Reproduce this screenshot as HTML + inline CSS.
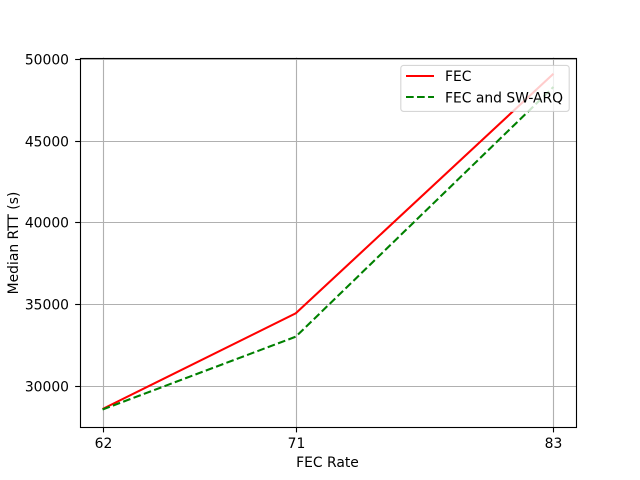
<!DOCTYPE html>
<html>
<head>
<meta charset="utf-8">
<style>
html,body{margin:0;padding:0;background:#fff;}
svg{display:block;}
text{font-family:"DejaVu Sans","Liberation Sans",sans-serif;font-size:13.89px;fill:#000;}
</style>
</head>
<body>
<svg id="chart" xmlns="http://www.w3.org/2000/svg" width="640" height="480" viewBox="0 0 640 480">
  <rect x="0" y="0" width="640" height="480" fill="#fff"/>
  <g id="grid"></g>
  <g id="series"></g>
  <g id="ticks"></g>
  <rect x="80.5" y="58.5" width="496" height="369" fill="none" stroke="#000" stroke-width="1.11"/>
  <text x="327.5" y="467" text-anchor="middle">FEC Rate</text>
  <text transform="translate(18 243) rotate(-90)" text-anchor="middle">Median RTT (s)</text>
  <g>
    <rect x="400.8" y="65.4" width="168.4" height="46" rx="2.8" ry="2.8" fill="#fff" fill-opacity="0.8" stroke="#ccc" stroke-opacity="0.8" stroke-width="1.11"/>
    <line x1="406" y1="76" x2="434" y2="76" stroke="#f00" stroke-width="2.08"/>
    <text x="445" y="81">FEC</text>
    <line x1="406" y1="97" x2="434" y2="97" stroke="#008000" stroke-width="2.08" stroke-dasharray="7.7 3.33"/>
    <text x="445" y="102.5">FEC and SW-ARQ</text>
  </g>
</svg>
<script>
const categories = [62, 71, 83];
const xTickLabels = ["62", "71", "83"];
const yTickValues = [30000, 35000, 40000, 45000, 50000];
const yTickLabels = ["30000", "35000", "40000", "45000", "50000"];
const fecValues = [28611, 34468, 49130];
const fecSwArqValues = [28580, 33036, 48317];
const yDomain = [27497, 50116];

const NS = "http://www.w3.org/2000/svg";
const plot = { left: 80, right: 576, top: 57.6, bottom: 427.2 };
const xMinData = Math.min.apply(null, categories);
const xMaxData = Math.max.apply(null, categories);
const xPad = (xMaxData - xMinData) * 0.05;

function xScale(v) {
  return plot.left + (v - (xMinData - xPad)) / (xMaxData - xMinData + 2 * xPad) * (plot.right - plot.left);
}
function yScale(v) {
  return plot.bottom - (v - yDomain[0]) / (yDomain[1] - yDomain[0]) * (plot.bottom - plot.top);
}
function snapX(p) {
  return Math.round(p) + 0.5;
}
function snapY(p) {
  return Math.floor(p) + 0.5;
}
function make(tag, attrs, parent) {
  const el = document.createElementNS(NS, tag);
  for (const k in attrs) el.setAttribute(k, attrs[k]);
  parent.appendChild(el);
  return el;
}

const gridGroup = document.getElementById("grid");
const tickGroup = document.getElementById("ticks");
const seriesGroup = document.getElementById("series");

categories.forEach(function (c, i) {
  const x = snapX(xScale(c));
  const g = make("line", { x1: x, x2: x, y1: plot.top, y2: plot.bottom, stroke: "#b0b0b0", "stroke-width": 1.11 }, gridGroup);
  
  
  const t = make("line", { x1: x, x2: x, y1: plot.bottom, y2: plot.bottom + 5.2, stroke: "#000", "stroke-width": 1.11 }, tickGroup);
  
  
  const l = make("text", { x: x, y: 448, "text-anchor": "middle" }, tickGroup);
  
  
  l.textContent = xTickLabels[i];
});

yTickValues.forEach(function (v, i) {
  const y = snapY(yScale(v));
  const g = make("line", { x1: plot.left, x2: plot.right, y1: y, y2: y, stroke: "#b0b0b0", "stroke-width": 1.11 }, gridGroup);
  
  
  const t = make("line", { x1: plot.left - 4.86, x2: plot.left, y1: y, y2: y, stroke: "#000", "stroke-width": 1.11 }, tickGroup);
  
  
  const l = make("text", { x: 69, y: y + 5, "text-anchor": "end" }, tickGroup);
  
  
  l.textContent = yTickLabels[i];
});

function pointsOf(values) {
  return values.map(function (v, i) {
    return xScale(categories[i]).toFixed(2) + "," + yScale(v).toFixed(2);
  }).join(" ");
}

const fecLine = make("polyline", { points: pointsOf(fecValues), fill: "none", stroke: "#f00", "stroke-width": 2.08 }, seriesGroup);



const arqLine = make("polyline", { points: pointsOf(fecSwArqValues), fill: "none", stroke: "#008000", "stroke-width": 2.08, "stroke-dasharray": "7.7 3.33" }, seriesGroup);


</script>
</body>
</html>
